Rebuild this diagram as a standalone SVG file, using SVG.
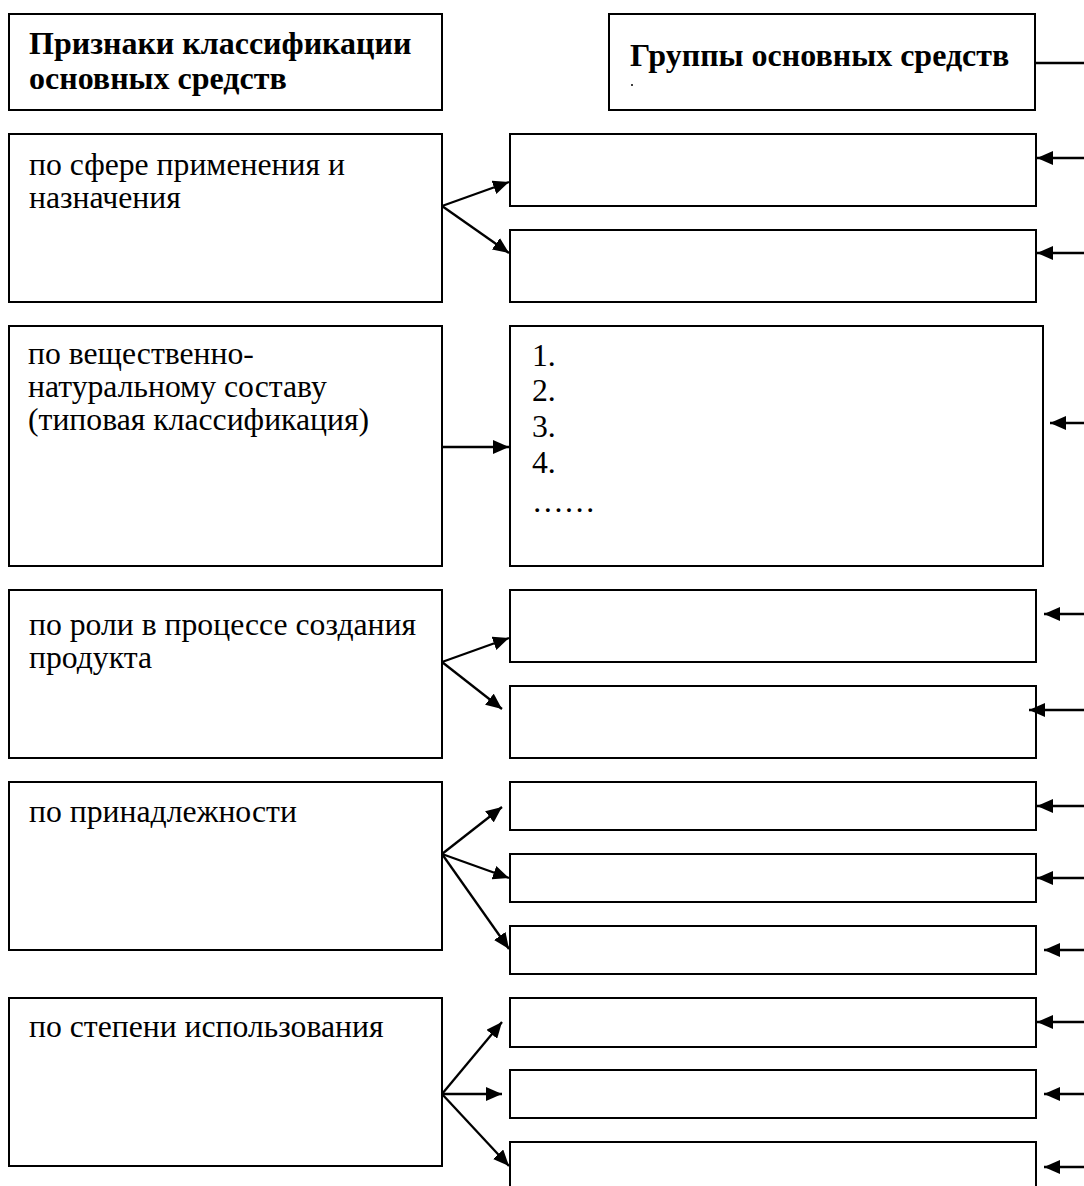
<svg xmlns="http://www.w3.org/2000/svg" width="1084" height="1186" viewBox="0 0 1084 1186">
<style>
.box{fill:#fff;stroke:#000;stroke-width:2}
.t{font-family:"Liberation Serif","Times New Roman",serif;font-size:31.7px;fill:#000}
.h{font-family:"Liberation Serif","Times New Roman",serif;font-size:32px;font-weight:bold;fill:#000}
.c{stroke:#000;stroke-width:2.3;fill:none}
</style>
<defs>
<marker id="ah" markerWidth="16" markerHeight="14" refX="16" refY="7" orient="auto" markerUnits="userSpaceOnUse">
<path d="M0,0 L16,7 L0,14 Z" fill="#000"/>
</marker>
</defs>
<rect width="1084" height="1186" fill="#fff"/>
<g id="hdr-left"><rect class="box" x="9" y="14" width="433" height="96"/>
<text class="h" x="29" y="54">Признаки классификации</text>
<text class="h" x="29" y="89">основных средств</text></g>
<g id="hdr-right"><rect class="box" x="609" y="14" width="426" height="96"/>
<text class="h" x="630" y="66">Группы основных средств</text>
<circle cx="632" cy="85" r="1" fill="#000"/></g>

<g id="l1"><rect class="box" x="9" y="134" width="433" height="168"/>
<text class="t" x="29" y="175">по сфере применения и</text>
<text class="t" x="29" y="208">назначения</text></g>
<g id="l2"><rect class="box" x="9" y="326" width="433" height="240"/>
<text class="t" x="28" y="364">по вещественно-</text>
<text class="t" x="28" y="397">натуральному составу</text>
<text class="t" x="28" y="430">(типовая классификация)</text></g>
<g id="l3"><rect class="box" x="9" y="590" width="433" height="168"/>
<text class="t" x="29" y="635">по роли в процессе создания</text>
<text class="t" x="29" y="668">продукта</text></g>
<g id="l4"><rect class="box" x="9" y="782" width="433" height="168"/>
<text class="t" x="29" y="822">по принадлежности</text></g>
<g id="l5"><rect class="box" x="9" y="998" width="433" height="168"/>
<text class="t" x="29" y="1037">по степени использования</text></g>

<g id="r1"><rect class="box" x="510" y="134" width="526" height="72"/></g>
<g id="r2"><rect class="box" x="510" y="230" width="526" height="72"/></g>
<g id="r3"><rect class="box" x="510" y="326" width="533" height="240"/>
<text class="t" x="532" y="366">1.</text>
<text class="t" x="532" y="401">2.</text>
<text class="t" x="532" y="437">3.</text>
<text class="t" x="532" y="473">4.</text>
<text class="t" x="532" y="512">……</text></g>
<g id="r4"><rect class="box" x="510" y="590" width="526" height="72"/></g>
<g id="r5"><rect class="box" x="510" y="686" width="526" height="72"/></g>
<g id="r6"><rect class="box" x="510" y="782" width="526" height="48"/></g>
<g id="r7"><rect class="box" x="510" y="854" width="526" height="48"/></g>
<g id="r8"><rect class="box" x="510" y="926" width="526" height="48"/></g>
<g id="r9"><rect class="box" x="510" y="998" width="526" height="49"/></g>
<g id="r10"><rect class="box" x="510" y="1070" width="526" height="48"/></g>
<g id="r11"><rect class="box" x="510" y="1142" width="526" height="60"/></g>

<g id="connectors">
<line class="c" x1="1035" y1="63" x2="1084" y2="63"/>
<line class="c" x1="442" y1="206" x2="509" y2="182" marker-end="url(#ah)"/>
<line class="c" x1="442" y1="206" x2="509" y2="253" marker-end="url(#ah)"/>
<line class="c" x1="442" y1="447" x2="509" y2="447" marker-end="url(#ah)"/>
<line class="c" x1="442" y1="662" x2="509" y2="638" marker-end="url(#ah)"/>
<line class="c" x1="442" y1="662" x2="502" y2="709" marker-end="url(#ah)"/>
<line class="c" x1="442" y1="854" x2="502" y2="807" marker-end="url(#ah)"/>
<line class="c" x1="442" y1="854" x2="509" y2="878" marker-end="url(#ah)"/>
<line class="c" x1="442" y1="854" x2="509" y2="949" marker-end="url(#ah)"/>
<line class="c" x1="442" y1="1094" x2="502" y2="1022" marker-end="url(#ah)"/>
<line class="c" x1="442" y1="1094" x2="502" y2="1094" marker-end="url(#ah)"/>
<line class="c" x1="442" y1="1094" x2="509" y2="1166" marker-end="url(#ah)"/>
<line class="c" x1="1084" y1="158" x2="1037" y2="158" marker-end="url(#ah)"/>
<line class="c" x1="1084" y1="253" x2="1037" y2="253" marker-end="url(#ah)"/>
<line class="c" x1="1084" y1="423" x2="1050" y2="423" marker-end="url(#ah)"/>
<line class="c" x1="1084" y1="614" x2="1044" y2="614" marker-end="url(#ah)"/>
<line class="c" x1="1084" y1="710" x2="1029" y2="710" marker-end="url(#ah)"/>
<line class="c" x1="1084" y1="806" x2="1037" y2="806" marker-end="url(#ah)"/>
<line class="c" x1="1084" y1="878" x2="1037" y2="878" marker-end="url(#ah)"/>
<line class="c" x1="1084" y1="950" x2="1044" y2="950" marker-end="url(#ah)"/>
<line class="c" x1="1084" y1="1022" x2="1037" y2="1022" marker-end="url(#ah)"/>
<line class="c" x1="1084" y1="1094" x2="1044" y2="1094" marker-end="url(#ah)"/>
<line class="c" x1="1084" y1="1167" x2="1044" y2="1167" marker-end="url(#ah)"/>
</g>
</svg>
